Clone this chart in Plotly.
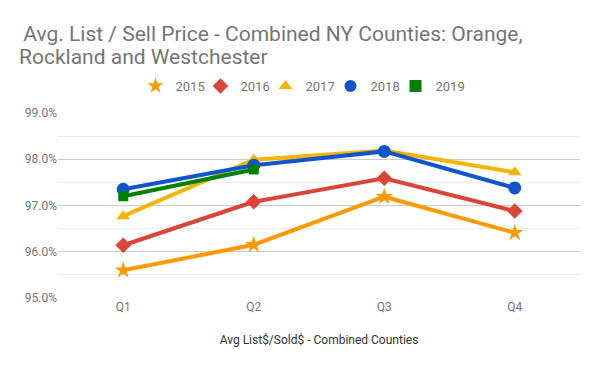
import plotly.graph_objects as go

quarters = ["Q1", "Q2", "Q3", "Q4"]
y2015 = [95.60, 96.15, 97.19, 96.41]
y2016 = [96.14, 97.08, 97.59, 96.88]
y2017 = [96.77, 97.99, 98.19, 97.72]
y2018 = [97.35, 97.87, 98.17, 97.38]
y2019 = [97.20, 97.78]

series = [
    ("2015", y2015, "#ff9900", "star", 13),
    ("2016", y2016, "#db4437", "diamond", 12),
    ("2017", y2017, "#f4b400", "triangle-up", 12),
    ("2018", y2018, "#1155cc", "circle", 13),
    ("2019", y2019, "#008000", "square", 10),
]

fig = go.Figure()
for name, vals, color, sym, sz in series:
    fig.add_trace(go.Scatter(
        x=quarters[:len(vals)], y=vals, name=name, mode="lines+markers",
        line=dict(color=color, width=4),
        marker=dict(symbol=sym, size=sz, color=color),
        legendgroup=name, showlegend=False,
        hovertemplate="%{y:.2f}%<extra>" + name + "</extra>",
    ))
# marker-only legend entries (legend in reference shows symbols only)
for name, vals, color, sym, sz in series:
    fig.add_trace(go.Scatter(
        x=[None], y=[None], name=name, mode="markers",
        marker=dict(symbol=sym, size=12, color=color),
        legendgroup=name, showlegend=True, hoverinfo="skip",
    ))
# invisible spacer entry so the last legend label is not clipped
fig.add_trace(go.Scatter(
    x=[None], y=[None], name=" ", mode="markers",
    marker=dict(size=1, color="rgba(0,0,0,0)"),
    showlegend=True, hoverinfo="skip",
))

fig.update_layout(
    width=600, height=371,
    margin=dict(l=58, r=20, t=113, b=73, autoexpand=False),
    paper_bgcolor="white", plot_bgcolor="white",
    font=dict(family="Roboto", color="#757575", size=12),
    title=dict(
        text="&nbsp;Avg. List / Sell Price - Combined NY Counties: Orange,",
        x=18 / 600, xref="container", xanchor="left",
        y=1 - 33.5 / 371, yref="container", yanchor="middle",
        font=dict(family="Roboto", size=21, color="#757575"),
    ),
    annotations=[dict(
        text="Rockland and Westchester",
        xref="paper", yref="paper",
        x=(17 - 58) / 522, y=(298 - 57) / 185,
        xanchor="left", yanchor="middle", showarrow=False,
        font=dict(family="Roboto", size=21, color="#757575"),
    )],
    legend=dict(
        orientation="h", x=(303 + 27.5) / 600, xanchor="center", xref="container",
        y=1 - 86 / 371, yref="container", yanchor="middle",
        font=dict(size=13, color="#757575"),
        entrywidth=20, entrywidthmode="pixels",
    ),
    showlegend=True,
)

fig.update_xaxes(
    type="category", range=[-0.5, 3.5], showgrid=False, showline=False,
    zeroline=False, ticks="", tickfont=dict(size=12, color="#757575"),
    title=dict(text="Avg List$/Sold$ - Combined Counties",
               font=dict(size=12, color="#333333"), standoff=22),
)
fig.update_yaxes(
    range=[95, 99], dtick=1, tick0=95, tickformat=".1f", ticksuffix="%",
    showgrid=True, gridcolor="#cccccc", gridwidth=1,
    zeroline=False, showline=False, ticks="",
    tickfont=dict(size=12, color="#757575"),
    minor=dict(dtick=0.5, showgrid=True, gridcolor="#ebebeb", gridwidth=1),
)

fig.write_html("out.html", config={"displayModeBar": False},
               post_script="document.body.style.margin='0';")
